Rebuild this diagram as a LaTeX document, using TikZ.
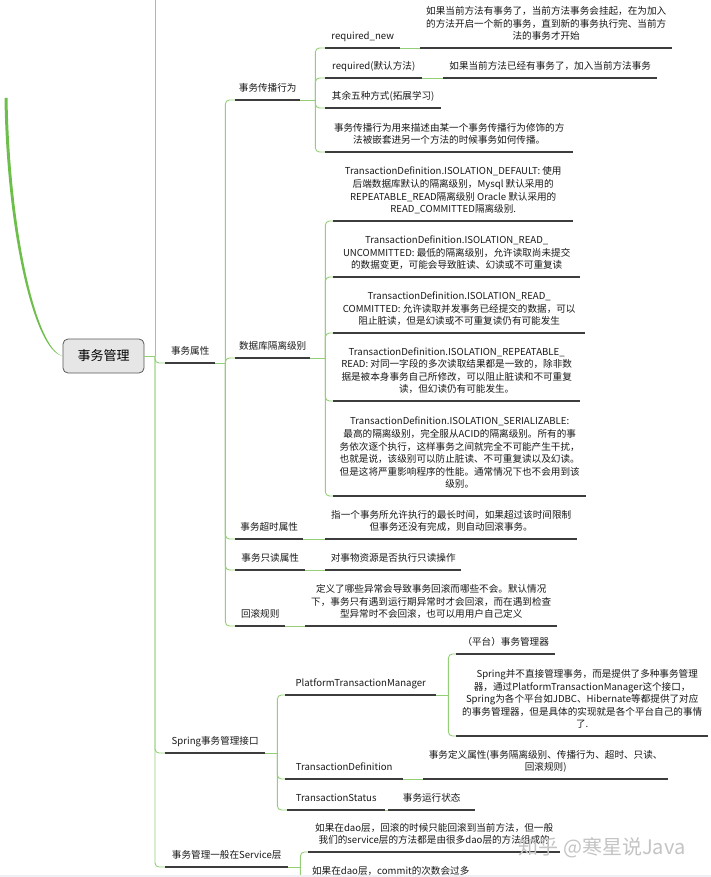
\documentclass[tikz,border=0pt]{standalone}
\usepackage{fontspec}
\newfontfamily\cjkf{Noto Sans CJK SC}
\definecolor{lgreen}{HTML}{94CF78}
\definecolor{ulgray}{HTML}{3D3D3D}
\definecolor{cgreen}{HTML}{6DBE4B}
\definecolor{rootfill}{HTML}{E6E6E6}
\definecolor{rootdraw}{HTML}{5A5A5A}
\definecolor{wmgray}{HTML}{C4C4C4}
\definecolor{bandgray}{HTML}{EEF0F3}
\tikzset{
  topic/.style={anchor=south west, inner xsep=0pt, inner ysep=6pt, text depth=2pt, align=center, font=\cjkf\fontsize{9.6}{12.6}\selectfont, text=black!90},
  rootbox/.style={draw=rootdraw, fill=rootfill, line width=0.8pt, rounded corners=5pt, minimum width=81pt, minimum height=34pt, inner sep=0pt, font=\cjkf\fontsize{13}{15}\selectfont},
  conn/.style={draw=lgreen, line width=0.9pt, rounded corners=4pt},
  uline/.style={draw=ulgray, line width=1.2pt},
  wm/.style={text=wmgray, font=\cjkf\fontsize{20}{22}\selectfont, inner sep=0pt}
}
\begin{document}
\begin{tikzpicture}[x=1pt,y=-1pt]
\useasboundingbox (0,0) rectangle (711,877);
\clip (0,0) rectangle (711,877);
\fill[white] (0,0) rectangle (711,877);

% root
\node[rootbox] (root) at (103.5,356) {事务管理};
\coordinate (ptopL) at (4.5,98);
\coordinate (ptopR) at (7.5,98);
\fill[cgreen] (ptopL) .. controls (6.5,230) and (34,351) .. (root.west) .. controls (36,349) and (9.5,230) .. (ptopR) -- cycle;

% level 1
\node[topic, minimum width=50pt] (attr) at (165,363) {事务属性};
\node[topic, minimum width=100pt] (spring) at (165,753) {Spring事务管理接口};
\node[topic, minimum width=123pt] (svc) at (165,867) {事务管理一般在Service层};

% level 2 under attr
\node[topic, minimum width=65pt] (prop) at (235,100) {事务传播行为};
\node[topic, minimum width=75pt] (iso) at (235,358) {数据库隔离级别};
\node[topic, minimum width=68pt] (tmo) at (235,539) {事务超时属性};
\node[topic, minimum width=70pt] (ro) at (235,570) {事务只读属性};
\node[topic, minimum width=50pt] (rb) at (235,626) {回滚规则};

% propagation
\node[topic, minimum width=75pt] (rn) at (325,48) {required\_new};
\node[topic, minimum width=252pt] (rnd) at (420,48) {如果当前方法有事务了，当前方法事务会挂起，在为加入\\的方法开启一个新的事务，直到新的事务执行完、当前方\\法的事务才开始};
\node[topic, minimum width=97pt] (rq) at (325,78) {required(默认方法)};
\node[topic, minimum width=214pt] (rqd) at (443,78) {如果当前方法已经有事务了，加入当前方法事务};
\node[topic, minimum width=116pt] (oth) at (325,108) {其余五种方式(拓展学习)};
\node[topic, minimum width=248pt] (pdesc) at (325,152) {事务传播行为用来描述由某一个事务传播行为修饰的方\\法被嵌套进另一个方法的时候事务如何传播。};

% isolation
\node[topic, minimum width=240pt] (d0) at (333,221) {TransactionDefinition.ISOLATION\_DEFAULT: 使用\\后端数据库默认的隔离级别，Mysql 默认采用的\\REPEATABLE\_READ隔离级别 Oracle 默认采用的\\READ\_COMMITTED隔离级别.};
\node[topic, minimum width=247pt] (d1) at (333,277) {TransactionDefinition.ISOLATION\_READ\_\\UNCOMMITTED: 最低的隔离级别，允许读取尚未提交\\的数据变更，可能会导致脏读、幻读或不可重复读};
\node[topic, minimum width=252pt] (d2) at (333,333) {TransactionDefinition.ISOLATION\_READ\_\\COMMITTED: 允许读取并发事务已经提交的数据，可以\\阻止脏读，但是幻读或不可重复读仍有可能发生};
\node[topic, minimum width=247pt] (d3) at (333,401) {TransactionDefinition.ISOLATION\_REPEATABLE\_\\READ: 对同一字段的多次读取结果都是一致的，除非数\\据是被本身事务自己所修改，可以阻止脏读和不可重复\\读，但幻读仍有可能发生。};
\node[topic, minimum width=253pt] (d4) at (333,496) {TransactionDefinition.ISOLATION\_SERIALIZABLE:\\最高的隔离级别，完全服从ACID的隔离级别。所有的事\\务依次逐个执行，这样事务之间就完全不可能产生干扰，\\也就是说，该级别可以防止脏读、不可重复读以及幻读。\\但是这将严重影响程序的性能。通常情况下也不会用到该\\级别。};

% timeout / readonly / rollback
\node[topic, minimum width=252pt] (tmod) at (325,539) {指一个事务所允许执行的最长时间，如果超过该时间限制\\但事务还没有完成，则自动回滚事务。};
\node[topic, minimum width=136pt] (rod) at (325,570) {对事物资源是否执行只读操作};
\node[topic, minimum width=252pt] (rbd) at (305,626) {定义了哪些异常会导致事务回滚而哪些不会。默认情况\\下，事务只有遇到运行期异常时才会回滚，而在遇到检查\\型异常时不会回滚，也可以用用户自己定义};

% spring interfaces
\node[topic, minimum width=151pt] (ptm) at (285,695) {PlatformTransactionManager};
\node[topic, minimum width=118pt] (td) at (285,779) {TransactionDefinition};
\node[topic, minimum width=98pt] (ts) at (287,810) {TransactionStatus};
\node[topic, minimum width=99pt] (plat) at (456,654) {（平台）事务管理器};
\node[topic, minimum width=252pt] (pd) at (456,736) {\hspace*{10pt}Spring并不直接管理事务，而是提供了多种事务管理\\器，通过PlatformTransactionManager这个接口，\\Spring为各个平台如JDBC、Hibernate等都提供了对应\\的事务管理器，但是具体的实现就是各个平台自己的事情\\了.};
\node[topic, minimum width=245pt] (tdd) at (423,779) {事务定义属性(事务隔离级别、传播行为、超时、只读、\\回滚规则)};
\node[topic, minimum width=87pt] (tsd) at (388,810) {事务运行状态};

% service layer
\node[topic, minimum width=252pt] (s1) at (308,852) {如果在dao层，回滚的时候只能回滚到当前方法，但一般\\我们的service层的方法都是由很多dao层的方法组成的};
\node[topic, minimum width=165pt] (s2) at (308,883) {如果在dao层，commit的次数会过多};

% junctions
\coordinate (jr) at (155,356);
\coordinate (jtop) at (155,-10);
\coordinate (ja) at ([xshift=10pt]attr.south east);
\coordinate (jp) at ([xshift=15pt]prop.south east);
\coordinate (ji) at ([xshift=15pt]iso.south east);
\coordinate (js) at ([xshift=12pt]spring.south east);
\coordinate (jpt) at ([xshift=12pt]ptm.south east);
\coordinate (jsv) at ([xshift=12pt]svc.south east);

% connectors
\draw[conn] (root.east) -- (jr);
\draw[conn] (jr) -- (jtop);
\foreach \c in {attr,spring,svc} \draw[conn] (jr) |- (\c.south west);
\draw[conn] (attr.south east) -- (ja);
\foreach \c in {prop,iso,tmo,ro,rb} \draw[conn] (ja) |- (\c.south west);
\draw[conn] (prop.south east) -- (jp);
\foreach \c in {rn,rq,oth,pdesc} \draw[conn] (jp) |- (\c.south west);
\draw[conn] (iso.south east) -- (ji);
\foreach \c in {d0,d1,d2,d3,d4} \draw[conn] (ji) |- (\c.south west);
\draw[conn] (spring.south east) -- (js);
\foreach \c in {ptm,td,ts} \draw[conn] (js) |- (\c.south west);
\draw[conn] (ptm.south east) -- (jpt);
\foreach \c in {plat,pd} \draw[conn] (jpt) |- (\c.south west);
\draw[conn] (svc.south east) -- (jsv);
\foreach \c in {s1,s2} \draw[conn] (jsv) |- (\c.south west);
\draw[conn] (rn.south east) -- (rnd.south west);
\draw[conn] (rq.south east) -- (rqd.south west);
\draw[conn] (tmo.south east) -- (tmod.south west);
\draw[conn] (ro.south east) -- (rod.south west);
\draw[conn] (rb.south east) -- (rbd.south west);
\draw[conn] (td.south east) -- (tdd.south west);
\draw[conn] (ts.south east) -- (tsd.south west);

% underlines
\foreach \n in {attr,spring,svc,prop,iso,tmo,ro,rb,rn,rnd,rq,rqd,oth,pdesc,d0,d1,d2,d3,d4,tmod,rod,rbd,ptm,td,ts,plat,pd,tdd,tsd,s1,s2}
  \draw[uline] (\n.south west) -- (\n.south east);

% watermark and bottom band
\node[wm] (wmark) at (602,848) {知乎 @寒星说Java};
\fill[bandgray] (0,874.5) rectangle (711,877);
\end{tikzpicture}
\end{document}
